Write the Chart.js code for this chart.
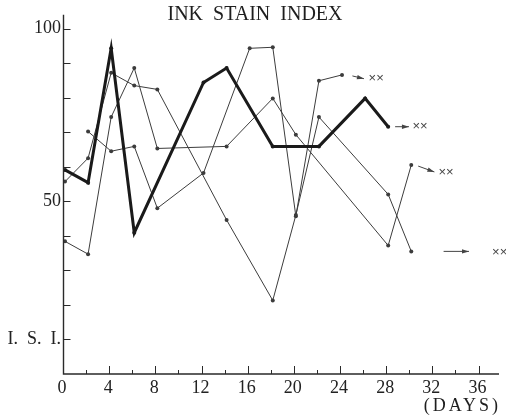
<!DOCTYPE html>
<html>
<head>
<meta charset="utf-8">
<script src="https://cdn.jsdelivr.net/npm/chart.js@4.4.1/dist/chart.umd.min.js"></script>
<style>
  html, body { margin: 0; padding: 0; background: #fff; }
  #wrap { width: 506px; height: 417px; }
</style>
</head>
<body>
<div id="wrap"><canvas id="c" width="506" height="417"></canvas></div>
<script>
// Ink stain index readings, one pair of arrays per sample (day, index)
const daysA = [0, 2, 4, 6, 12, 14, 18, 22, 26, 28];
const isiA  = [59.1, 55.4, 94.3, 40.9, 84.4, 88.6, 65.9, 65.9, 79.8, 71.6];

const daysB = [0, 2, 4, 6, 8, 14, 18, 20, 22, 28, 30];
const isiB  = [55.7, 62.5, 87.2, 83.5, 82.4, 44.6, 21.3, 46.0, 74.4, 52.0, 35.5];

const daysC = [0, 2, 4, 6, 8, 14, 18, 20, 28, 30];
const isiC  = [38.4, 34.7, 74.4, 88.6, 65.3, 65.9, 79.8, 69.3, 37.2, 60.5];

const daysD = [2, 4, 6, 8, 12, 16, 18, 20, 22, 24];
const isiD  = [70.2, 64.5, 65.9, 48.0, 58.2, 94.3, 94.6, 45.7, 84.9, 86.6];

// Axis ticks
const xTickValues = [0, 4, 8, 12, 16, 20, 24, 28, 32, 36];
const xMinorValues = [2, 6, 10, 14, 18, 22, 26, 30, 34];
const yTickValues = [10, 50, 100];
const yTickTexts  = ['I.  S.  I.', '50', '100'];
const yMarkValues = [10, 20, 30, 40, 50, 60, 70, 80, 90, 100];

// "continues" arrows after each series' last reading (day, index)
const arrowFromDay = [28.6, 24.9, 30.6, 32.8];
const arrowFromIsi = [71.6, 86.3, 60.2, 35.5];
const arrowToDay   = [29.8, 25.9, 32.0, 35.0];
const arrowToIsi   = [71.6, 85.5, 58.5, 35.5];
const markDay      = [30.1, 26.3, 32.35, 37.0];
const markIsi      = [71.6, 85.5, 58.5, 35.2];
const markText     = '××';

const SERIF = '"Liberation Serif", "DejaVu Serif", serif';

function pts(days, vals) { return days.map((d, i) => ({ x: d, y: vals[i] })); }

function series(days, vals, width, color) {
  return {
    data: pts(days, vals),
    borderColor: color,
    borderWidth: width,
    pointRadius: 2,
    pointBackgroundColor: color,
    pointBorderWidth: 0,
    tension: 0,
    clip: false
  };
}

const axesAndNotes = {
  id: 'axesAndNotes',
  afterDatasetsDraw(chart) {
    const ctx = chart.ctx;
    const xs = chart.scales.x, ys = chart.scales.y;
    const left = xs.getPixelForValue(0) - 1.5;
    const bottom = ys.getPixelForValue(0);
    ctx.save();
    ctx.strokeStyle = '#2a2a2a';
    ctx.lineWidth = 1.4;
    ctx.beginPath();
    ctx.moveTo(left, ys.getPixelForValue(104));
    ctx.lineTo(left, bottom);
    ctx.lineTo(xs.getPixelForValue(xs.max), bottom);
    ctx.stroke();

    ctx.lineWidth = 1;
    ctx.beginPath();
    yMarkValues.forEach(v => {
      const y = Math.round(ys.getPixelForValue(v)) + 0.5;
      ctx.moveTo(left, y); ctx.lineTo(left + 7, y);
    });
    xTickValues.slice(1).forEach(v => {
      const x = Math.round(xs.getPixelForValue(v)) - 1.5;
      ctx.moveTo(x, bottom); ctx.lineTo(x, bottom - 8);
    });
    xMinorValues.forEach(v => {
      const x = Math.round(xs.getPixelForValue(v)) - 1.5;
      ctx.moveTo(x, bottom); ctx.lineTo(x, bottom - 4);
    });
    ctx.stroke();

    // continuation arrows and marks
    ctx.strokeStyle = '#444';
    ctx.fillStyle = '#444';
    ctx.lineWidth = 1;
    arrowFromDay.forEach((d, i) => {
      const x1 = xs.getPixelForValue(d), y1 = ys.getPixelForValue(arrowFromIsi[i]);
      const x2 = xs.getPixelForValue(arrowToDay[i]), y2 = ys.getPixelForValue(arrowToIsi[i]);
      const ang = Math.atan2(y2 - y1, x2 - x1);
      ctx.beginPath();
      ctx.moveTo(x1, y1); ctx.lineTo(x2, y2);
      ctx.stroke();
      ctx.beginPath();
      ctx.moveTo(x2, y2);
      ctx.lineTo(x2 - 7 * Math.cos(ang) + 2.2 * Math.sin(ang), y2 - 7 * Math.sin(ang) - 2.2 * Math.cos(ang));
      ctx.lineTo(x2 - 7 * Math.cos(ang) - 2.2 * Math.sin(ang), y2 - 7 * Math.sin(ang) + 2.2 * Math.cos(ang));
      ctx.closePath();
      ctx.fill();
      ctx.font = '13px "Liberation Sans", sans-serif';
      ctx.textAlign = 'left';
      ctx.textBaseline = 'middle';
      ctx.fillText(markText, xs.getPixelForValue(markDay[i]), ys.getPixelForValue(markIsi[i]));
    });

    // title and axis caption
    ctx.fillStyle = '#1e1e1e';
    ctx.font = '20px ' + SERIF;
    ctx.textAlign = 'center';
    ctx.textBaseline = 'middle';
    ctx.fillText('INK  STAIN  INDEX', 255, 15);
    ctx.font = '18px ' + SERIF;
    ctx.textAlign = 'right';
    ctx.letterSpacing = '3px';
    ctx.fillText('(DAYS)', 501, 406);
    ctx.restore();
  }
};

new Chart(document.getElementById('c'), {
  type: 'line',
  data: {
    datasets: [
      series(daysA, isiA, 3, '#1a1a1a'),
      series(daysB, isiB, 1, '#3c3c3c'),
      series(daysC, isiC, 1, '#3c3c3c'),
      series(daysD, isiD, 1, '#3c3c3c')
    ]
  },
  options: {
    responsive: false,
    animation: false,
    layout: { padding: { top: 8, right: 7, left: 0, bottom: 0 } },
    plugins: { legend: { display: false }, tooltip: { enabled: false }, title: { display: false } },
    scales: {
      x: {
        type: 'linear', min: 0, max: 37.6,
        afterBuildTicks: s => { s.ticks = xTickValues.map(v => ({ value: v })); },
        afterFit: s => { s.height = 43; },
        grid: { display: false, drawTicks: false },
        border: { display: false },
        ticks: { font: { family: SERIF, size: 18 }, color: '#222', padding: 3, labelOffset: -3, maxRotation: 0, autoSkip: false }
      },
      y: {
        type: 'linear', min: 0, max: 104,
        afterBuildTicks: s => { s.ticks = yTickValues.map(v => ({ value: v })); },
        afterFit: s => { s.width = 65; },
        grid: { display: false, drawTicks: false },
        border: { display: false },
        ticks: {
          font: { family: SERIF, size: 18 }, color: '#222', padding: 4, autoSkip: false,
          callback: (v, i) => yTickTexts[i]
        }
      }
    }
  },
  plugins: [axesAndNotes]
});
</script>
</body>
</html>
